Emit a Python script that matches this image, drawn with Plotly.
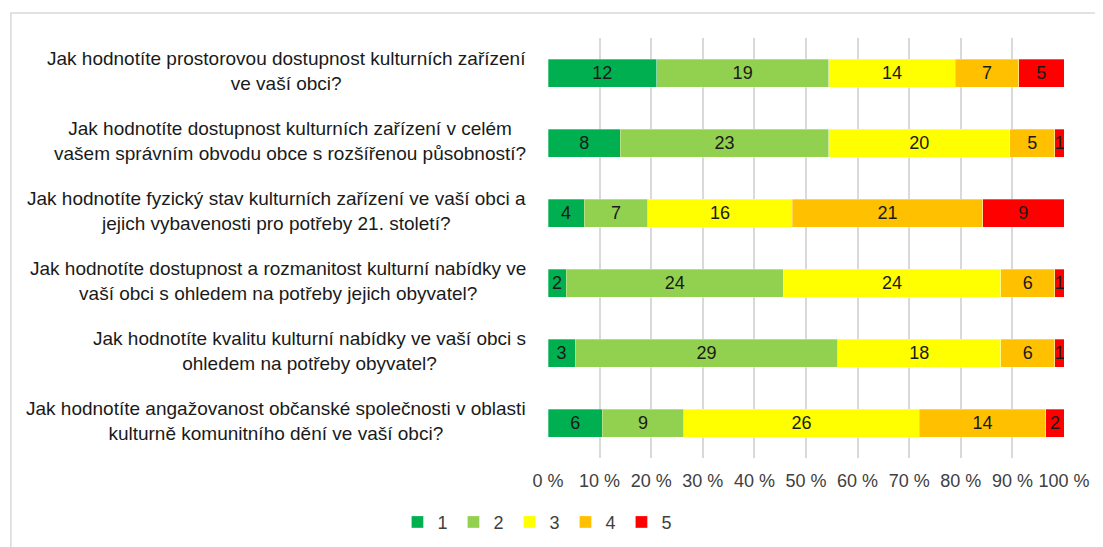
import plotly.graph_objects as go

# otázky (kategorie)
questions = [
    'Jak hodnotíte prostorovou dostupnost kulturních zařízení<br>ve vaší obci?',
    'Jak hodnotíte dostupnost kulturních zařízení v celém<br>vašem správním obvodu obce s rozšířenou působností?',
    'Jak hodnotíte fyzický stav kulturních zařízení ve vaší obci a<br>jejich vybavenosti pro potřeby 21. století?',
    'Jak hodnotíte dostupnost a rozmanitost kulturní nabídky ve<br>vaší obci s ohledem na potřeby jejich obyvatel?',
    'Jak hodnotíte kvalitu kulturní nabídky ve vaší obci s<br>ohledem na potřeby obyvatel?',
    'Jak hodnotíte angažovanost občanské společnosti v oblasti<br>kulturně komunitního dění ve vaší obci?',
]

# počty odpovědí pro hodnocení 1-5
rating_1 = [12, 8, 4, 2, 3, 6]
rating_2 = [19, 23, 7, 24, 29, 9]
rating_3 = [14, 20, 16, 24, 18, 26]
rating_4 = [7, 5, 21, 6, 6, 14]
rating_5 = [5, 1, 9, 1, 1, 2]

series_names = ['1', '2', '3', '4', '5']
series = [rating_1, rating_2, rating_3, rating_4, rating_5]
colors = ['#00B050', '#92D050', '#FFFF00', '#FFC000', '#FF0000']

tick_vals = [0, 10, 20, 30, 40, 50, 60, 70, 80, 90, 100]
tick_text = ['0 %', '10 %', '20 %', '30 %', '40 %', '50 %',
             '60 %', '70 %', '80 %', '90 %', '100 %']

fig = go.Figure()
for name, vals, col in zip(series_names, series, colors):
    fig.add_trace(go.Bar(
        y=questions, x=vals, name=name, orientation='h',
        marker=dict(color=col, line=dict(color='rgba(255,255,255,0.6)', width=0.5)),
        text=vals, textposition='inside', insidetextanchor='middle',
        textfont=dict(color='#1a1a1a', size=18),
        constraintext='none',
    ))

# popisky otázek - víceřádkové, zarovnané na střed
for q in questions:
    fig.add_annotation(
        x=-0.038, xref='paper', y=q, yref='y', text=q, yshift=2,
        xanchor='right', yanchor='middle', align='center', showarrow=False,
        font=dict(size=19, color='#1a1a1a'),
    )

# rámeček grafu
fig.add_shape(type='rect', xref='paper', yref='paper',
              x0=-1.041, x1=1.2, y0=-0.5, y1=1.0595,
              line=dict(color='#D9D9D9', width=1.5))

fig.update_layout(
    width=1103, height=547,
    barmode='stack', barnorm='percent', bargap=0.6,
    plot_bgcolor='white', paper_bgcolor='white',
    font=dict(family='Liberation Sans, Arial, sans-serif', size=18, color='#404040'),
    margin=dict(l=540, r=47, t=30, b=97),
    uniformtext=dict(minsize=18, mode='show'),
    legend=dict(orientation='h', xref='container', x=0.48, xanchor='center',
                yref='container', y=0.06, yanchor='middle',
                font=dict(size=18, color='#404040'), traceorder='normal',
                itemwidth=30, entrywidth=11, entrywidthmode='pixels'),
    showlegend=True,
)
fig.update_xaxes(range=[0, 100], tickmode='array', tickvals=tick_vals, ticktext=tick_text,
                 showgrid=True, gridcolor='#D9D9D9', gridwidth=1.5,
                 zeroline=False, showline=False, ticks='', ticklabelstandoff=10,
                 tickfont=dict(size=18, color='#404040'))
fig.update_yaxes(autorange='reversed', showticklabels=False, showgrid=False,
                 zeroline=False, showline=False)

fig.write_html("out.html")
